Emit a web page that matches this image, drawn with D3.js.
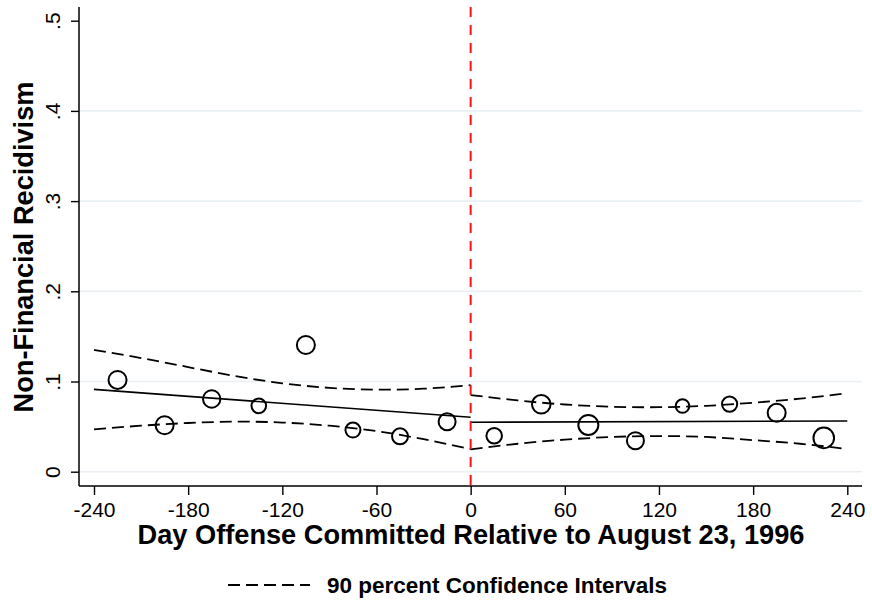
<!DOCTYPE html>
<html>
<head>
<meta charset="utf-8">
<script src="https://cdn.jsdelivr.net/npm/d3@7"></script>
<style>
  html, body { margin: 0; padding: 0; background: #fff; }
  svg { display: block; font-family: "Liberation Sans", Arial, Helvetica, sans-serif; }
</style>
</head>
<body>
<svg id="chart" width="872" height="603"></svg>
<script>
// ---- data ----
const days  = [-225, -195, -165, -135, -105, -75, -45, -15, 15, 45, 75, 105, 135, 165, 195, 225];
const rates = [0.1017, 0.0515, 0.0806, 0.0730, 0.1405, 0.0462, 0.0392, 0.0554,
               0.0398, 0.0747, 0.0518, 0.0344, 0.0728, 0.0750, 0.0653, 0.0375];
const obs   = [810, 810, 757, 533, 810, 563, 640, 723, 608, 865, 1000, 723, 462, 578, 810, 1061];

const fitLeftDays  = [-240, 0];
const fitLeftVals  = [0.0913, 0.0603];
const fitRightDays = [0, 240];
const fitRightVals = [0.0548, 0.0562];

const ciLeftDays   = [-240, -210, -180, -150, -120, -90, -60, -30, 0];
const ciLeftUpper  = [0.135, 0.126, 0.116, 0.106, 0.098, 0.093, 0.091, 0.092, 0.096];
const ciLeftLower  = [0.047, 0.051, 0.054, 0.0555, 0.0545, 0.051, 0.045, 0.036, 0.025];
const ciRightDays  = [0, 30, 60, 90, 120, 150, 180, 210, 240];
const ciRightUpper = [0.085, 0.079, 0.0745, 0.072, 0.0715, 0.073, 0.0765, 0.081, 0.087];
const ciRightLower = [0.0248, 0.031, 0.0355, 0.0385, 0.0395, 0.0385, 0.035, 0.031, 0.025];

const cutoffDay = 0;
const xTicks = [-240, -180, -120, -60, 0, 60, 120, 180, 240];
const yTicks = [0, 0.1, 0.2, 0.3, 0.4, 0.5];
const yTickLabels = ["0", ".1", ".2", ".3", ".4", ".5"];
const gridTicks = [0, 0.1, 0.2, 0.3, 0.4];
const xTitle = "Day Offense Committed Relative to August 23, 1996";
const yTitle = "Non-Financial Recidivism";
const legendLabel = "90 percent Confidence Intervals";

// ---- layout ----
const svg = d3.select("#chart");
const region = { left: 79, right: 862, top: 7, bottom: 486 };
const x = d3.scaleLinear().domain([-240, 240]).range([94, 847.3]);
const y = d3.scaleLinear().domain([0, 0.5]).range([471.7, 20.7]);
const r = d3.scaleSqrt().domain([0, 1000]).range([0, 10]);

// gridlines
svg.append("g").selectAll("line").data(gridTicks).join("line")
  .attr("x1", region.left).attr("x2", region.right)
  .attr("y1", d => y(d)).attr("y2", d => y(d))
  .attr("stroke", "#e9eff2").attr("stroke-width", 1.6);

// axes
const fontTick = 21;
const xAxis = svg.append("g").attr("transform", `translate(0,${region.bottom})`)
  .call(d3.axisBottom(x).tickValues(xTicks).tickSize(9).tickFormat(d3.format("d")));
xAxis.select(".domain").remove();
xAxis.selectAll(".tick line").attr("stroke", "#000").attr("stroke-width", 1.4);
xAxis.selectAll(".tick text").attr("font-size", fontTick).attr("fill", "#000")
  .attr("font-family", "Liberation Sans, Arial, sans-serif")
  .attr("dy", 0).attr("y", 30.5)
  .text(d => d < 0 ? "-" + Math.abs(d) : String(d));

const yAxis = svg.append("g").attr("transform", `translate(${region.left},0)`)
  .call(d3.axisLeft(y).tickValues(yTicks).tickSize(8).tickFormat((d, i) => yTickLabels[i]));
yAxis.select(".domain").remove();
yAxis.selectAll(".tick line").attr("stroke", "#000").attr("stroke-width", 1.4);
yAxis.selectAll(".tick text").attr("font-size", fontTick).attr("fill", "#000")
  .attr("font-family", "Liberation Sans, Arial, sans-serif")
  .attr("x", 0).attr("y", -19).attr("dy", 0)
  .attr("text-anchor", "middle").attr("transform", "rotate(-90)");

svg.append("line").attr("x1", region.left).attr("x2", region.left)
  .attr("y1", region.top).attr("y2", region.bottom)
  .attr("stroke", "#000").attr("stroke-width", 1.5);
svg.append("line").attr("x1", region.left).attr("x2", region.right)
  .attr("y1", region.bottom).attr("y2", region.bottom)
  .attr("stroke", "#000").attr("stroke-width", 1.5);

// CI lines
const curve = d3.line().x(d => x(d[0])).y(d => y(d[1])).curve(d3.curveNatural);
const zip = (a, b) => a.map((v, i) => [v, b[i]]);
[[ciLeftDays, ciLeftUpper], [ciLeftDays, ciLeftLower],
 [ciRightDays, ciRightUpper], [ciRightDays, ciRightLower]].forEach(([dx, dv]) => {
  svg.append("path").attr("d", curve(zip(dx, dv)))
    .attr("fill", "none").attr("stroke", "#000").attr("stroke-width", 1.8)
    .attr("stroke-dasharray", "12,6");
});

// fitted lines
const straight = d3.line().x(d => x(d[0])).y(d => y(d[1]));
[[fitLeftDays, fitLeftVals], [fitRightDays, fitRightVals]].forEach(([dx, dv]) => {
  svg.append("path").attr("d", straight(zip(dx, dv)))
    .attr("fill", "none").attr("stroke", "#000").attr("stroke-width", 1.6);
});

// points
svg.append("g").selectAll("circle").data(days).join("circle")
  .attr("cx", d => x(d)).attr("cy", (d, i) => y(rates[i]))
  .attr("r", (d, i) => r(obs[i]))
  .attr("fill", "none").attr("stroke", "#000").attr("stroke-width", 2);

// cutoff line
svg.append("line").attr("x1", x(cutoffDay)).attr("x2", x(cutoffDay))
  .attr("y1", region.top).attr("y2", region.bottom)
  .attr("stroke", "#ff1010").attr("stroke-width", 2).attr("stroke-dasharray", "10,8");

// titles
svg.append("text").attr("x", 471).attr("y", 543.5).attr("text-anchor", "middle")
  .attr("font-size", 27.2).attr("font-weight", "bold").attr("fill", "#000").text(xTitle);
svg.append("text").attr("transform", "translate(33,247) rotate(-90)")
  .attr("text-anchor", "middle").attr("font-size", 27.2).attr("font-weight", "bold")
  .attr("fill", "#000").text(yTitle);

// legend
svg.append("line").attr("x1", 228).attr("x2", 310).attr("y1", 585).attr("y2", 585)
  .attr("stroke", "#000").attr("stroke-width", 1.8).attr("stroke-dasharray", "12,6");
svg.append("text").attr("x", 327).attr("y", 593).attr("font-size", 22.5)
  .attr("font-weight", "bold").attr("fill", "#000").text(legendLabel);
</script>
</body>
</html>
